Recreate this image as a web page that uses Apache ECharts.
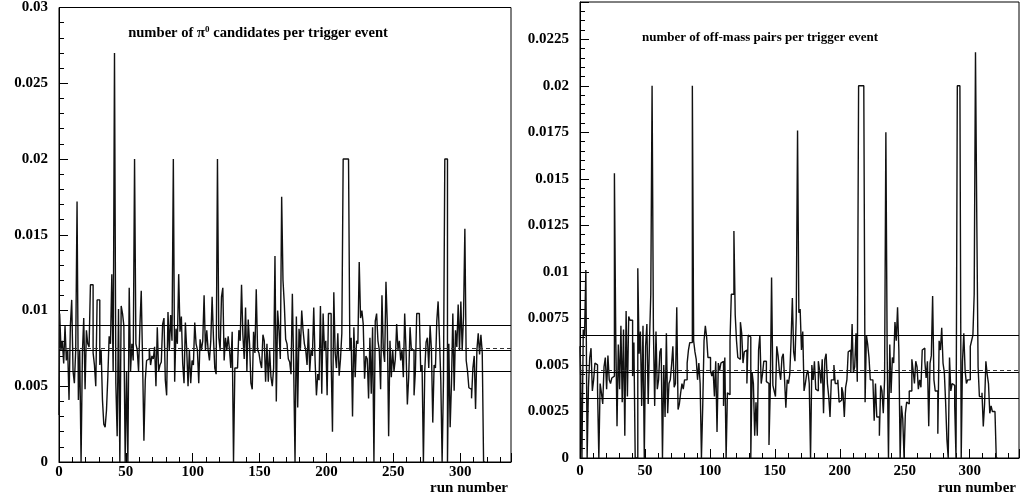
<!DOCTYPE html>
<html>
<head>
<meta charset="utf-8">
<script src="https://cdn.jsdelivr.net/npm/echarts@6/dist/echarts.min.js"></script>
<style>
html, body { margin: 0; padding: 0; background: #fff; }
#chart { width: 1020px; height: 499px; }
</style>
</head>
<body>
<div id="chart"></div>
<script>
// Per-run yields, in units of 1e-4 per trigger event; array index = run number.
const pi0Candidates = [
  31, 98, 74, 80, 65, 90, 67, 74, 41, 90,
  107, 60, 52, 74, 172, 41, 74, 0, 72, 95,
  48, 87, 78, 76, 117, 117, 72, 64, 50, 107,
  107, 64, 74, 41, 25, 23, 34, 56, 83, 78,
  124, 60, 270, 52, 17, 101, 0, 103, 98, 90,
  0, 60, 0, 115, 60, 78, 67, 200, 78, 74,
  60, 90, 113, 67, 14, 54, 67, 68, 75, 64,
  70, 68, 76, 50, 89, 60, 64, 66, 91, 95,
  54, 44, 99, 74, 97, 80, 200, 53, 88, 78,
  124, 86, 96, 65, 52, 92, 74, 50, 74, 52,
  67, 64, 92, 78, 74, 52, 81, 74, 80, 110,
  74, 87, 74, 67, 80, 109, 82, 62, 58, 200,
  82, 74, 109, 115, 67, 82, 74, 83, 74, 62,
  86, 0, 62, 62, 62, 87, 80, 117, 84, 68,
  102, 60, 94, 78, 52, 48, 86, 72, 114, 74,
  72, 66, 62, 84, 80, 53, 78, 53, 74, 56,
  50, 62, 136, 40, 100, 87, 68, 175, 120, 104,
  81, 78, 68, 66, 58, 111, 62, 0, 96, 36,
  88, 74, 100, 87, 78, 74, 64, 88, 60, 74,
  70, 102, 67, 44, 58, 54, 103, 45, 98, 74,
  80, 44, 98, 98, 68, 20, 112, 72, 62, 85,
  57, 68, 85, 200, 200, 200, 200, 200, 74, 82,
  30, 89, 56, 80, 78, 132, 95, 100, 91, 55,
  70, 68, 42, 82, 45, 89, 0, 93, 98, 80,
  74, 48, 110, 74, 66, 119, 91, 17, 80, 56,
  74, 60, 68, 91, 74, 80, 67, 74, 56, 98,
  74, 38, 56, 89, 74, 74, 44, 60, 98, 98,
  96, 60, 64, 0, 60, 79, 82, 62, 90, 74,
  26, 64, 62, 93, 106, 82, 54, 0, 54, 200,
  200, 0, 78, 23, 52, 98, 47, 87, 76, 104,
  74, 106, 74, 96, 154, 67, 60, 49, 48, 42,
  62, 70, 35, 74, 85, 71, 84, 72, 0, 0
];

const offMassPairs = [
  60, 45, 0, 69, 66, 101, 0, 38, 54, 59,
  36, 42, 51, 50, 37, 0, 40, 35, 29, 49,
  54, 37, 55, 42, 40, 43, 44, 153, 67, 17,
  61, 37, 71, 30, 69, 12, 79, 33, 76, 74,
  74, 44, 62, 0, 0, 102, 56, 68, 28, 71,
  0, 60, 72, 29, 63, 88, 200, 70, 28, 68,
  37, 42, 57, 59, 0, 50, 22, 67, 24, 40,
  42, 50, 60, 38, 40, 81, 26, 29, 35, 40,
  37, 42, 42, 51, 58, 62, 62, 200, 63, 57,
  53, 42, 51, 40, 0, 28, 63, 71, 65, 54,
  54, 47, 44, 47, 33, 52, 14, 51, 47, 51,
  52, 28, 54, 0, 35, 34, 63, 88, 88, 122,
  77, 63, 54, 53, 73, 67, 51, 57, 58, 40,
  66, 65, 0, 46, 40, 12, 30, 12, 58, 66,
  40, 45, 52, 52, 41, 40, 7, 37, 97, 39,
  36, 33, 60, 55, 47, 42, 54, 56, 42, 27,
  42, 40, 45, 63, 86, 57, 52, 76, 176, 78,
  80, 58, 68, 36, 40, 45, 47, 40, 0, 50,
  42, 52, 37, 36, 52, 47, 40, 53, 24, 53,
  56, 40, 33, 22, 42, 42, 50, 40, 40, 42,
  30, 31, 38, 35, 22, 38, 42, 57, 58, 46,
  72, 46, 49, 67, 41, 200, 200, 200, 200, 200,
  30, 66, 61, 54, 42, 42, 42, 20, 40, 22,
  22, 12, 39, 36, 24, 42, 175, 56, 0, 61,
  35, 54, 51, 73, 63, 81, 58, 0, 28, 21,
  0, 24, 30, 29, 36, 36, 53, 47, 40, 52,
  49, 37, 42, 38, 58, 59, 52, 43, 52, 17,
  51, 55, 87, 42, 36, 36, 13, 63, 58, 70,
  51, 46, 30, 10, 0, 54, 36, 40, 39, 28,
  0, 200, 200, 200, 0, 52, 67, 47, 40, 42,
  42, 60, 63, 66, 88, 218, 128, 49, 33, 33,
  35, 17, 29, 52, 45, 40, 24, 28, 25, 25,
  25, 0, 0
];

// Reference levels (solid): upper band, mean, lower band; plus the dashed mean.
const pi0Levels = [90, 74, 60];
const pi0MeanDashed = 75;
const offMassLevels = [66, 46, 32];
const offMassMeanDashed = 47;

const titles = [
  'number of π{s|0} candidates per trigger event',
  'number of off-mass pairs per trigger event'
];
const xAxisTitle = 'run number';

const FONT = '"Liberation Serif", "DejaVu Serif", serif';

function yLabel(v) {
  if (v === 0) return '0';
  return String(parseFloat((v / 10000).toFixed(5)));
}

function xAxisFor(gi, margin) {
  return {
    gridIndex: gi, type: 'value', min: 0, max: 338, interval: 50,
    axisLine: { show: true, lineStyle: { color: '#000', width: 1 } },
    axisTick: { show: true, inside: true, length: 9, lineStyle: { color: '#000', width: 1 } },
    minorTick: { show: true, splitNumber: 5, length: 5, lineStyle: { color: '#000', width: 1 } },
    splitLine: { show: false },
    axisLabel: {
      margin: margin, color: '#000', fontFamily: FONT, fontWeight: 'bold', fontSize: 15,
      showMaxLabel: false, formatter: v => String(v)
    }
  };
}

function yAxisFor(gi, max, interval) {
  return {
    gridIndex: gi, type: 'value', min: 0, max: max, interval: interval,
    axisLine: { show: true, lineStyle: { color: '#000', width: 1 } },
    axisTick: { show: true, inside: true, length: 9, lineStyle: { color: '#000', width: 1 } },
    minorTick: { show: true, splitNumber: 5, length: 5, lineStyle: { color: '#000', width: 1 } },
    splitLine: { show: false },
    axisLabel: {
      margin: 11, color: '#000', fontFamily: FONT, fontWeight: 'bold', fontSize: 15,
      showMaxLabel: max % interval === 0, formatter: yLabel
    }
  };
}

function histSeries(gi, values, levels, dashed) {
  const lines = levels.map(v => ({ yAxis: v, lineStyle: { type: 'solid', color: '#000', width: 1 } }));
  lines.push({ yAxis: dashed, lineStyle: { type: [4, 3], color: '#333', width: 1 } });
  return {
    type: 'line', xAxisIndex: gi, yAxisIndex: gi, step: 'middle',
    symbol: 'none', animation: false, z: 3,
    data: values.map((v, i) => [i, v]),
    lineStyle: { color: '#111', width: 1.4 },
    markLine: {
      silent: true, symbol: ['none', 'none'], animation: false,
      label: { show: false }, data: lines
    }
  };
}

const chart = echarts.init(document.getElementById('chart'), null, { renderer: 'canvas' });
chart.setOption({
  backgroundColor: '#fff',
  animation: false,
  grid: [
    { left: 59, top: 7, width: 452, height: 455, show: true, borderColor: '#000', borderWidth: 1, backgroundColor: '#fff' },
    { left: 580, top: 2, width: 439, height: 456, show: true, borderColor: '#000', borderWidth: 1, backgroundColor: '#fff' }
  ],
  xAxis: [xAxisFor(0, 3), xAxisFor(1, 6)],
  yAxis: [yAxisFor(0, 300, 50), yAxisFor(1, 245, 25)],
  series: [
    histSeries(0, pi0Candidates, pi0Levels, pi0MeanDashed),
    histSeries(1, offMassPairs, offMassLevels, offMassMeanDashed)
  ],
  graphic: [
    {
      type: 'text', x: 258, y: 33, z: 10,
      style: {
        text: titles[0], align: 'center', verticalAlign: 'middle',
        font: 'bold 14.6px ' + FONT, fill: '#000',
        rich: { s: { font: 'bold 9px ' + FONT, fill: '#000', verticalAlign: 'top', padding: [0, 0, 6, 0] } }
      }
    },
    {
      type: 'text', x: 760, y: 38, z: 10,
      style: { text: titles[1], align: 'center', verticalAlign: 'middle', font: 'bold 13px ' + FONT, fill: '#000' }
    },
    {
      type: 'text', x: 508, y: 488, z: 10,
      style: { text: xAxisTitle, align: 'right', verticalAlign: 'middle', font: 'bold 15px ' + FONT, fill: '#000' }
    },
    {
      type: 'text', x: 1016, y: 488, z: 10,
      style: { text: xAxisTitle, align: 'right', verticalAlign: 'middle', font: 'bold 15px ' + FONT, fill: '#000' }
    }
  ]
});
</script>
</body>
</html>
